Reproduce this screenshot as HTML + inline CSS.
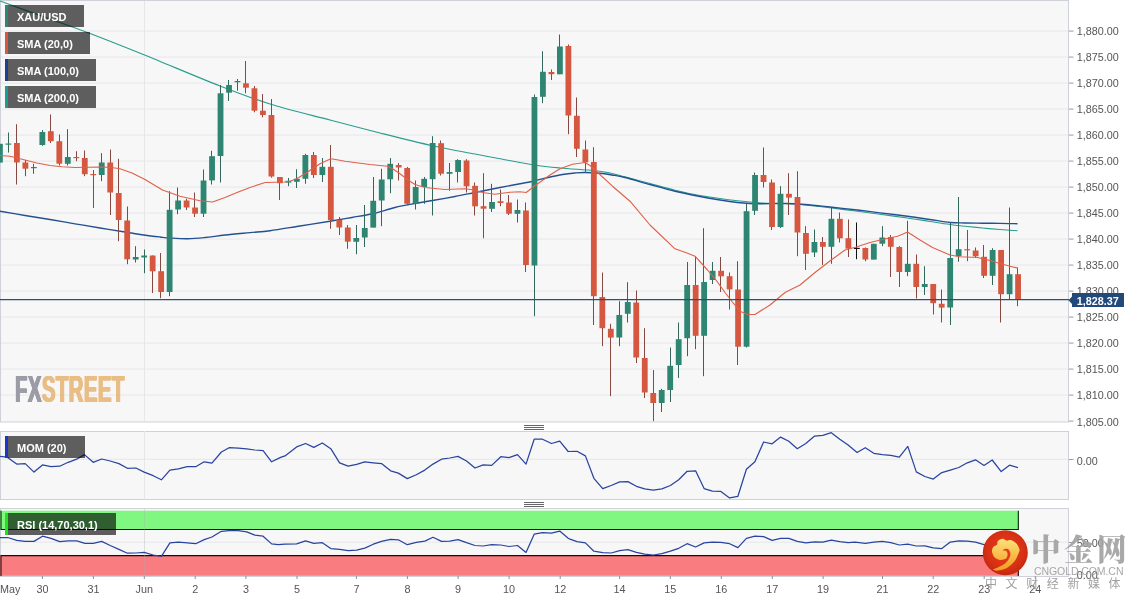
<!DOCTYPE html>
<html lang="en"><head><meta charset="utf-8"><title>XAU/USD 4H chart</title>
<style>
html,body{margin:0;padding:0;background:#fff;}
body{width:1139px;height:602px;overflow:hidden;position:relative;font-family:"Liberation Sans",sans-serif;}
svg{position:absolute;left:0;top:0;display:block}
.ax{font:10.8px "Liberation Sans",sans-serif;fill:#555;}
.lbl{position:absolute;left:5px;height:21.6px;background:rgba(0,0,0,0.62);color:#fff;font:bold 11px/24.4px "Liberation Sans",sans-serif;box-sizing:border-box;padding-left:12px;white-space:nowrap;}
.lbl i{position:absolute;left:0;top:0;bottom:0;width:3px;}
#fx{position:absolute;left:15.3px;top:369.05px;font:bold 37.4px/40px "Liberation Sans",sans-serif;transform:scaleX(0.546);transform-origin:0 0;white-space:nowrap;letter-spacing:0.7px;text-shadow:1.1px 0 0 currentColor,-1.1px 0 0 currentColor,0.55px 0 0 currentColor,-0.55px 0 0 currentColor;}
#fx .a{color:#9b9ca6} #fx .b{color:#e9be86}
#wm1{position:absolute;left:1031px;top:524.5px;letter-spacing:3.4px;font:900 29.6px/44px "Noto Serif CJK SC","Noto Sans CJK SC",serif;color:#a3a3a3;white-space:nowrap;opacity:.93}
#wm2{position:absolute;left:1034px;top:564px;font:10.5px/14px "Liberation Sans",sans-serif;color:#a6a6a6;white-space:nowrap;letter-spacing:-0.08px}
#wm3{position:absolute;left:985px;top:575.4px;font:12px/18px "Liberation Sans","Noto Sans CJK SC",sans-serif;color:#a0a0a0;white-space:nowrap;letter-spacing:8.6px}
#price{position:absolute;left:1072px;top:293px;width:51.5px;height:14.4px;background:#21497a;color:#fff;font:bold 10.8px/16.4px "Liberation Sans",sans-serif;text-align:center;white-space:nowrap}
</style></head><body>
<svg width="1139" height="602" viewBox="0 0 1139 602">
<defs>
<radialGradient id="rg" cx="50%" cy="45%" r="60%"><stop offset="0" stop-color="#e8401c"/><stop offset="0.7" stop-color="#d62f14"/><stop offset="1" stop-color="#b8240f"/></radialGradient>
<linearGradient id="gg" x1="0" y1="0" x2="0" y2="1"><stop offset="0" stop-color="#fde27a"/><stop offset="1" stop-color="#f59a1e"/></linearGradient>
</defs>
<rect x="0.5" y="0.5" width="1068" height="421.5" fill="#f7f7f7" stroke="#cfd1d8" stroke-width="1"/>
<rect x="0.5" y="431.5" width="1068" height="68.0" fill="#f7f7f7" stroke="#cfd1d8" stroke-width="1"/>
<rect x="0.5" y="508.5" width="1068" height="68.0" fill="#f7f7f7" stroke="#cfd1d8" stroke-width="1"/>
<line x1="1" x2="1068" y1="31.1" y2="31.1" stroke="#e7e7ea" stroke-width="1"/>
<line x1="1" x2="1068" y1="57.1" y2="57.1" stroke="#e7e7ea" stroke-width="1"/>
<line x1="1" x2="1068" y1="83.1" y2="83.1" stroke="#e7e7ea" stroke-width="1"/>
<line x1="1" x2="1068" y1="109.1" y2="109.1" stroke="#e7e7ea" stroke-width="1"/>
<line x1="1" x2="1068" y1="135.1" y2="135.1" stroke="#e7e7ea" stroke-width="1"/>
<line x1="1" x2="1068" y1="161.1" y2="161.1" stroke="#e7e7ea" stroke-width="1"/>
<line x1="1" x2="1068" y1="187.1" y2="187.1" stroke="#e7e7ea" stroke-width="1"/>
<line x1="1" x2="1068" y1="213.1" y2="213.1" stroke="#e7e7ea" stroke-width="1"/>
<line x1="1" x2="1068" y1="239.1" y2="239.1" stroke="#e7e7ea" stroke-width="1"/>
<line x1="1" x2="1068" y1="265.1" y2="265.1" stroke="#e7e7ea" stroke-width="1"/>
<line x1="1" x2="1068" y1="291.1" y2="291.1" stroke="#e7e7ea" stroke-width="1"/>
<line x1="1" x2="1068" y1="317.1" y2="317.1" stroke="#e7e7ea" stroke-width="1"/>
<line x1="1" x2="1068" y1="343.1" y2="343.1" stroke="#e7e7ea" stroke-width="1"/>
<line x1="1" x2="1068" y1="369.1" y2="369.1" stroke="#e7e7ea" stroke-width="1"/>
<line x1="1" x2="1068" y1="395.1" y2="395.1" stroke="#e7e7ea" stroke-width="1"/>
<line x1="144.5" x2="144.5" y1="1" y2="422" stroke="#e7e7ea" stroke-width="1"/>
<line x1="144.5" x2="144.5" y1="431" y2="499.5" stroke="#e7e7ea" stroke-width="1"/>
<line x1="1" x2="1068" y1="459.3" y2="459.3" stroke="#e7e7ea" stroke-width="1"/>
<line x1="1" x2="1068" y1="542.2" y2="542.2" stroke="#e7e7ea" stroke-width="1"/>
<rect x="0" y="510.7" width="1018.8" height="18.8" fill="#80f780"/>
<rect x="0" y="555.6" width="1018.8" height="20.2" fill="#f87c80"/>
<path d="M1,510.7 V529.4 H1018.3 V510.7" fill="none" stroke="#0a1a0a" stroke-width="1.05"/>
<path d="M1,576 V555.6 H1018.3 V576" fill="none" stroke="#1a0a0a" stroke-width="1.05"/>
<line x1="144.5" x2="144.5" y1="509" y2="576" stroke="#b0b0b0" stroke-opacity="0.35" stroke-width="1"/>
<path d="M0.00,1.00 C6.67,3.42 26.08,10.50 40.00,15.50 C53.92,20.50 66.28,24.50 83.50,31.00 C100.72,37.50 120.55,45.33 143.30,54.50 C166.05,63.67 198.88,77.75 220.00,86.00 C241.12,94.25 251.67,98.33 270.00,104.00 C288.33,109.67 311.67,115.17 330.00,120.00 C348.33,124.83 362.92,128.71 380.00,133.00 C397.08,137.29 416.67,142.25 432.50,145.75 C448.33,149.25 463.75,151.83 475.00,154.00 C486.25,156.17 490.17,156.92 500.00,158.75 C509.83,160.58 524.00,163.46 534.00,165.00 C544.00,166.54 550.04,167.08 560.00,168.00 C569.96,168.92 585.42,169.67 593.75,170.50 C602.08,171.33 604.79,171.93 610.00,173.00 C615.21,174.07 618.33,175.15 625.00,176.90 C631.67,178.65 641.67,181.28 650.00,183.50 C658.33,185.72 666.67,188.20 675.00,190.20 C683.33,192.20 689.58,193.74 700.00,195.50 C710.42,197.26 727.17,199.50 737.50,200.75 C747.83,202.00 754.12,202.54 762.00,203.00 C769.88,203.46 777.58,203.17 784.75,203.50 C791.92,203.83 797.46,204.28 805.00,205.00 C812.54,205.72 821.25,206.76 830.00,207.80 C838.75,208.84 849.17,210.17 857.50,211.25 C865.83,212.33 871.67,213.18 880.00,214.30 C888.33,215.43 899.17,216.80 907.50,218.00 C915.83,219.20 922.92,220.42 930.00,221.50 C937.08,222.58 944.17,223.70 950.00,224.50 C955.83,225.30 959.58,225.72 965.00,226.30 C970.42,226.88 976.67,227.47 982.50,228.00 C988.33,228.53 994.17,229.04 1000.00,229.50 C1005.83,229.96 1014.58,230.54 1017.50,230.75" fill="none" stroke="#2a9d8f" stroke-width="1.15"/>
<path d="M0.00,211.25 C4.17,211.96 16.67,214.12 25.00,215.50 C33.33,216.88 41.67,218.12 50.00,219.50 C58.33,220.88 66.67,222.38 75.00,223.80 C83.33,225.22 91.67,226.63 100.00,228.00 C108.33,229.37 117.67,230.83 125.00,232.00 C132.33,233.17 138.17,234.17 144.00,235.00 C149.83,235.83 155.67,236.50 160.00,237.00 C164.33,237.50 165.42,237.71 170.00,238.00 C174.58,238.29 181.67,238.83 187.50,238.75 C193.33,238.67 198.75,238.12 205.00,237.50 C211.25,236.88 217.50,235.82 225.00,235.00 C232.50,234.18 242.50,233.31 250.00,232.60 C257.50,231.89 261.67,231.85 270.00,230.75 C278.33,229.65 290.00,227.58 300.00,226.00 C310.00,224.42 321.33,222.67 330.00,221.25 C338.67,219.83 344.92,218.75 352.00,217.50 C359.08,216.25 365.33,215.42 372.50,213.75 C379.67,212.08 387.92,209.21 395.00,207.50 C402.08,205.79 408.75,204.67 415.00,203.50 C421.25,202.33 425.83,201.67 432.50,200.50 C439.17,199.33 447.92,197.83 455.00,196.50 C462.08,195.17 467.50,194.00 475.00,192.50 C482.50,191.00 492.50,188.96 500.00,187.50 C507.50,186.04 514.33,184.83 520.00,183.75 C525.67,182.67 529.33,182.04 534.00,181.00 C538.67,179.96 543.25,178.58 548.00,177.50 C552.75,176.42 558.00,175.25 562.50,174.50 C567.00,173.75 571.25,173.33 575.00,173.00 C578.75,172.67 580.83,172.46 585.00,172.50 C589.17,172.54 595.50,172.83 600.00,173.25 C604.50,173.67 607.83,174.29 612.00,175.00 C616.17,175.71 618.67,175.92 625.00,177.50 C631.33,179.08 641.67,182.21 650.00,184.50 C658.33,186.79 666.67,189.25 675.00,191.25 C683.33,193.25 692.50,195.04 700.00,196.50 C707.50,197.96 713.75,199.00 720.00,200.00 C726.25,201.00 732.50,201.92 737.50,202.50 C742.50,203.08 745.83,203.29 750.00,203.50 C754.17,203.71 756.71,203.75 762.50,203.75 C768.29,203.75 777.67,203.38 784.75,203.50 C791.83,203.62 797.46,203.92 805.00,204.50 C812.54,205.08 821.25,206.08 830.00,207.00 C838.75,207.92 849.17,209.03 857.50,210.00 C865.83,210.97 871.67,211.76 880.00,212.80 C888.33,213.84 899.17,215.13 907.50,216.25 C915.83,217.37 922.92,218.46 930.00,219.50 C937.08,220.54 944.17,221.92 950.00,222.50 C955.83,223.08 959.58,222.88 965.00,223.00 C970.42,223.12 976.67,223.20 982.50,223.25 C988.33,223.30 994.17,223.22 1000.00,223.30 C1005.83,223.38 1014.58,223.68 1017.50,223.75" fill="none" stroke="#24508f" stroke-width="1.3"/>
<line x1="-0.50" x2="-0.50" y1="143.0" y2="176.0" stroke="#33675c" stroke-width="1"/>
<rect x="-2.97" y="143.8" width="5.8" height="18.8" fill="#2e8571"/>
<line x1="8.50" x2="8.50" y1="132.5" y2="152.5" stroke="#33675c" stroke-width="1"/>
<rect x="5.51" y="143.5" width="5.8" height="1.2" fill="#2e8571"/>
<line x1="16.50" x2="16.50" y1="124.2" y2="184.5" stroke="#86493f" stroke-width="1"/>
<rect x="14.00" y="143.0" width="5.8" height="19.5" fill="#d5573f"/>
<line x1="25.50" x2="25.50" y1="160.0" y2="176.2" stroke="#86493f" stroke-width="1"/>
<rect x="22.48" y="162.5" width="5.8" height="6.2" fill="#d5573f"/>
<line x1="33.50" x2="33.50" y1="163.8" y2="173.8" stroke="#33675c" stroke-width="1"/>
<rect x="30.96" y="167.0" width="5.8" height="1.2" fill="#2e8571"/>
<line x1="42.50" x2="42.50" y1="130.0" y2="145.8" stroke="#33675c" stroke-width="1"/>
<rect x="39.45" y="132.0" width="5.8" height="13.0" fill="#2e8571"/>
<line x1="50.50" x2="50.50" y1="114.5" y2="143.0" stroke="#86493f" stroke-width="1"/>
<rect x="47.93" y="131.2" width="5.8" height="10.0" fill="#d5573f"/>
<line x1="59.50" x2="59.50" y1="134.5" y2="165.5" stroke="#86493f" stroke-width="1"/>
<rect x="56.42" y="141.2" width="5.8" height="22.5" fill="#d5573f"/>
<line x1="67.50" x2="67.50" y1="129.2" y2="165.5" stroke="#33675c" stroke-width="1"/>
<rect x="64.90" y="157.0" width="5.8" height="6.8" fill="#2e8571"/>
<line x1="76.50" x2="76.50" y1="151.2" y2="161.2" stroke="#86493f" stroke-width="1"/>
<rect x="73.39" y="157.0" width="5.8" height="1.2" fill="#d5573f"/>
<line x1="84.50" x2="84.50" y1="150.5" y2="176.2" stroke="#86493f" stroke-width="1"/>
<rect x="81.87" y="158.0" width="5.8" height="16.2" fill="#d5573f"/>
<line x1="93.50" x2="93.50" y1="170.0" y2="208.0" stroke="#86493f" stroke-width="1"/>
<rect x="90.36" y="174.0" width="5.8" height="1.2" fill="#d5573f"/>
<line x1="101.50" x2="101.50" y1="153.2" y2="181.2" stroke="#33675c" stroke-width="1"/>
<rect x="98.84" y="162.5" width="5.8" height="12.5" fill="#2e8571"/>
<line x1="110.50" x2="110.50" y1="149.5" y2="215.0" stroke="#86493f" stroke-width="1"/>
<rect x="107.32" y="162.5" width="5.8" height="30.0" fill="#d5573f"/>
<line x1="118.50" x2="118.50" y1="158.8" y2="241.2" stroke="#86493f" stroke-width="1"/>
<rect x="115.81" y="193.0" width="5.8" height="27.0" fill="#d5573f"/>
<line x1="127.50" x2="127.50" y1="206.5" y2="264.2" stroke="#86493f" stroke-width="1"/>
<rect x="124.29" y="220.5" width="5.8" height="38.8" fill="#d5573f"/>
<line x1="135.50" x2="135.50" y1="246.2" y2="262.5" stroke="#33675c" stroke-width="1"/>
<rect x="132.78" y="257.0" width="5.8" height="2.5" fill="#2e8571"/>
<line x1="144.50" x2="144.50" y1="249.5" y2="273.2" stroke="#33675c" stroke-width="1"/>
<rect x="141.26" y="255.5" width="5.8" height="2.0" fill="#2e8571"/>
<line x1="152.50" x2="152.50" y1="255.5" y2="293.0" stroke="#86493f" stroke-width="1"/>
<rect x="149.75" y="255.5" width="5.8" height="15.8" fill="#d5573f"/>
<line x1="160.50" x2="160.50" y1="253.0" y2="298.2" stroke="#86493f" stroke-width="1"/>
<rect x="158.23" y="271.2" width="5.8" height="20.8" fill="#d5573f"/>
<line x1="169.50" x2="169.50" y1="191.2" y2="296.2" stroke="#33675c" stroke-width="1"/>
<rect x="166.72" y="209.8" width="5.8" height="82.2" fill="#2e8571"/>
<line x1="177.50" x2="177.50" y1="187.5" y2="214.2" stroke="#33675c" stroke-width="1"/>
<rect x="175.20" y="200.5" width="5.8" height="9.0" fill="#2e8571"/>
<line x1="186.50" x2="186.50" y1="198.8" y2="210.0" stroke="#86493f" stroke-width="1"/>
<rect x="183.69" y="200.5" width="5.8" height="7.0" fill="#d5573f"/>
<line x1="194.50" x2="194.50" y1="192.5" y2="217.0" stroke="#86493f" stroke-width="1"/>
<rect x="192.17" y="207.5" width="5.8" height="6.2" fill="#d5573f"/>
<line x1="203.50" x2="203.50" y1="169.5" y2="217.0" stroke="#33675c" stroke-width="1"/>
<rect x="200.65" y="180.5" width="5.8" height="33.2" fill="#2e8571"/>
<line x1="211.50" x2="211.50" y1="150.8" y2="184.5" stroke="#33675c" stroke-width="1"/>
<rect x="209.14" y="156.2" width="5.8" height="24.2" fill="#2e8571"/>
<line x1="220.50" x2="220.50" y1="85.0" y2="182.5" stroke="#33675c" stroke-width="1"/>
<rect x="217.62" y="93.3" width="5.8" height="62.7" fill="#2e8571"/>
<line x1="228.50" x2="228.50" y1="80.0" y2="101.0" stroke="#33675c" stroke-width="1"/>
<rect x="226.11" y="85.0" width="5.8" height="7.7" fill="#2e8571"/>
<line x1="237.50" x2="237.50" y1="79.0" y2="90.7" stroke="#33675c" stroke-width="1"/>
<rect x="234.59" y="81.0" width="5.8" height="1.3" fill="#2e8571"/>
<line x1="245.50" x2="245.50" y1="61.0" y2="93.3" stroke="#86493f" stroke-width="1"/>
<rect x="243.08" y="83.3" width="5.8" height="4.4" fill="#d5573f"/>
<line x1="254.50" x2="254.50" y1="86.0" y2="112.3" stroke="#86493f" stroke-width="1"/>
<rect x="251.56" y="88.3" width="5.8" height="22.4" fill="#d5573f"/>
<line x1="262.50" x2="262.50" y1="94.0" y2="117.3" stroke="#86493f" stroke-width="1"/>
<rect x="260.05" y="110.7" width="5.8" height="4.3" fill="#d5573f"/>
<line x1="271.50" x2="271.50" y1="99.0" y2="177.7" stroke="#86493f" stroke-width="1"/>
<rect x="268.53" y="115.0" width="5.8" height="61.5" fill="#d5573f"/>
<line x1="279.50" x2="279.50" y1="177.0" y2="200.0" stroke="#86493f" stroke-width="1"/>
<rect x="277.01" y="177.0" width="5.8" height="6.2" fill="#d5573f"/>
<line x1="288.50" x2="288.50" y1="178.0" y2="186.2" stroke="#33675c" stroke-width="1"/>
<rect x="285.50" y="180.8" width="5.8" height="1.8" fill="#2e8571"/>
<line x1="296.50" x2="296.50" y1="169.2" y2="188.0" stroke="#33675c" stroke-width="1"/>
<rect x="293.98" y="178.8" width="5.8" height="3.0" fill="#2e8571"/>
<line x1="305.50" x2="305.50" y1="153.8" y2="183.8" stroke="#33675c" stroke-width="1"/>
<rect x="302.47" y="155.0" width="5.8" height="23.8" fill="#2e8571"/>
<line x1="313.50" x2="313.50" y1="152.0" y2="178.0" stroke="#86493f" stroke-width="1"/>
<rect x="310.95" y="155.0" width="5.8" height="20.0" fill="#d5573f"/>
<line x1="322.50" x2="322.50" y1="158.0" y2="182.0" stroke="#33675c" stroke-width="1"/>
<rect x="319.44" y="166.8" width="5.8" height="8.2" fill="#2e8571"/>
<line x1="330.50" x2="330.50" y1="145.0" y2="228.8" stroke="#86493f" stroke-width="1"/>
<rect x="327.92" y="166.8" width="5.8" height="53.2" fill="#d5573f"/>
<line x1="339.50" x2="339.50" y1="217.0" y2="235.0" stroke="#86493f" stroke-width="1"/>
<rect x="336.41" y="220.0" width="5.8" height="7.5" fill="#d5573f"/>
<line x1="347.50" x2="347.50" y1="225.0" y2="248.8" stroke="#86493f" stroke-width="1"/>
<rect x="344.89" y="227.5" width="5.8" height="14.2" fill="#d5573f"/>
<line x1="356.50" x2="356.50" y1="225.0" y2="254.2" stroke="#33675c" stroke-width="1"/>
<rect x="353.38" y="238.0" width="5.8" height="3.8" fill="#2e8571"/>
<line x1="364.50" x2="364.50" y1="205.0" y2="247.0" stroke="#33675c" stroke-width="1"/>
<rect x="361.86" y="228.0" width="5.8" height="9.5" fill="#2e8571"/>
<line x1="373.50" x2="373.50" y1="177.0" y2="227.5" stroke="#33675c" stroke-width="1"/>
<rect x="370.34" y="200.8" width="5.8" height="26.8" fill="#2e8571"/>
<line x1="381.50" x2="381.50" y1="168.8" y2="226.2" stroke="#33675c" stroke-width="1"/>
<rect x="378.83" y="179.5" width="5.8" height="21.0" fill="#2e8571"/>
<line x1="390.50" x2="390.50" y1="158.0" y2="193.2" stroke="#33675c" stroke-width="1"/>
<rect x="387.31" y="163.8" width="5.8" height="15.5" fill="#2e8571"/>
<line x1="398.50" x2="398.50" y1="163.0" y2="180.5" stroke="#86493f" stroke-width="1"/>
<rect x="395.80" y="165.0" width="5.8" height="2.5" fill="#d5573f"/>
<line x1="407.50" x2="407.50" y1="167.0" y2="205.0" stroke="#86493f" stroke-width="1"/>
<rect x="404.28" y="168.0" width="5.8" height="35.8" fill="#d5573f"/>
<line x1="415.50" x2="415.50" y1="180.5" y2="209.5" stroke="#33675c" stroke-width="1"/>
<rect x="412.77" y="187.0" width="5.8" height="16.8" fill="#2e8571"/>
<line x1="424.50" x2="424.50" y1="177.0" y2="203.8" stroke="#33675c" stroke-width="1"/>
<rect x="421.25" y="178.8" width="5.8" height="8.2" fill="#2e8571"/>
<line x1="432.50" x2="432.50" y1="136.2" y2="215.5" stroke="#33675c" stroke-width="1"/>
<rect x="429.74" y="143.0" width="5.8" height="36.2" fill="#2e8571"/>
<line x1="440.50" x2="440.50" y1="140.5" y2="175.5" stroke="#86493f" stroke-width="1"/>
<rect x="438.22" y="143.2" width="5.8" height="30.5" fill="#d5573f"/>
<line x1="449.50" x2="449.50" y1="163.0" y2="190.8" stroke="#33675c" stroke-width="1"/>
<rect x="446.70" y="172.0" width="5.8" height="1.8" fill="#2e8571"/>
<line x1="457.50" x2="457.50" y1="159.2" y2="182.5" stroke="#33675c" stroke-width="1"/>
<rect x="455.19" y="160.0" width="5.8" height="12.0" fill="#2e8571"/>
<line x1="466.50" x2="466.50" y1="159.2" y2="192.5" stroke="#86493f" stroke-width="1"/>
<rect x="463.67" y="160.5" width="5.8" height="25.8" fill="#d5573f"/>
<line x1="474.50" x2="474.50" y1="182.5" y2="215.5" stroke="#86493f" stroke-width="1"/>
<rect x="472.16" y="185.8" width="5.8" height="20.5" fill="#d5573f"/>
<line x1="483.50" x2="483.50" y1="173.2" y2="238.2" stroke="#86493f" stroke-width="1"/>
<rect x="480.64" y="206.2" width="5.8" height="2.5" fill="#d5573f"/>
<line x1="491.50" x2="491.50" y1="183.8" y2="212.0" stroke="#33675c" stroke-width="1"/>
<rect x="489.13" y="202.0" width="5.8" height="6.8" fill="#2e8571"/>
<line x1="500.50" x2="500.50" y1="189.5" y2="206.2" stroke="#86493f" stroke-width="1"/>
<rect x="497.61" y="201.2" width="5.8" height="1.8" fill="#d5573f"/>
<line x1="508.50" x2="508.50" y1="195.0" y2="215.0" stroke="#86493f" stroke-width="1"/>
<rect x="506.10" y="202.5" width="5.8" height="11.2" fill="#d5573f"/>
<line x1="517.50" x2="517.50" y1="199.5" y2="222.5" stroke="#33675c" stroke-width="1"/>
<rect x="514.58" y="210.0" width="5.8" height="3.8" fill="#2e8571"/>
<line x1="525.50" x2="525.50" y1="202.5" y2="272.0" stroke="#86493f" stroke-width="1"/>
<rect x="523.07" y="210.5" width="5.8" height="54.5" fill="#d5573f"/>
<line x1="534.50" x2="534.50" y1="94.5" y2="316.2" stroke="#33675c" stroke-width="1"/>
<rect x="531.55" y="97.0" width="5.8" height="168.5" fill="#2e8571"/>
<line x1="542.50" x2="542.50" y1="51.2" y2="103.2" stroke="#33675c" stroke-width="1"/>
<rect x="540.03" y="71.8" width="5.8" height="25.0" fill="#2e8571"/>
<line x1="551.50" x2="551.50" y1="69.5" y2="80.0" stroke="#86493f" stroke-width="1"/>
<rect x="548.52" y="72.0" width="5.8" height="2.2" fill="#d5573f"/>
<line x1="559.50" x2="559.50" y1="34.5" y2="74.2" stroke="#33675c" stroke-width="1"/>
<rect x="557.00" y="46.5" width="5.8" height="27.8" fill="#2e8571"/>
<line x1="568.50" x2="568.50" y1="44.5" y2="134.2" stroke="#86493f" stroke-width="1"/>
<rect x="565.49" y="46.0" width="5.8" height="69.5" fill="#d5573f"/>
<line x1="576.50" x2="576.50" y1="97.5" y2="157.0" stroke="#86493f" stroke-width="1"/>
<rect x="573.97" y="115.8" width="5.8" height="33.0" fill="#d5573f"/>
<line x1="585.50" x2="585.50" y1="140.5" y2="172.5" stroke="#86493f" stroke-width="1"/>
<rect x="582.46" y="149.5" width="5.8" height="12.8" fill="#d5573f"/>
<line x1="593.50" x2="593.50" y1="147.2" y2="325.0" stroke="#86493f" stroke-width="1"/>
<rect x="590.94" y="162.0" width="5.8" height="134.2" fill="#d5573f"/>
<line x1="602.50" x2="602.50" y1="272.5" y2="346.2" stroke="#86493f" stroke-width="1"/>
<rect x="599.43" y="297.0" width="5.8" height="31.2" fill="#d5573f"/>
<line x1="610.50" x2="610.50" y1="323.8" y2="396.2" stroke="#86493f" stroke-width="1"/>
<rect x="607.91" y="328.8" width="5.8" height="8.8" fill="#d5573f"/>
<line x1="619.50" x2="619.50" y1="301.2" y2="346.2" stroke="#33675c" stroke-width="1"/>
<rect x="616.39" y="315.0" width="5.8" height="22.5" fill="#2e8571"/>
<line x1="627.50" x2="627.50" y1="282.2" y2="322.5" stroke="#33675c" stroke-width="1"/>
<rect x="624.88" y="302.0" width="5.8" height="11.8" fill="#2e8571"/>
<line x1="636.50" x2="636.50" y1="290.5" y2="363.0" stroke="#86493f" stroke-width="1"/>
<rect x="633.36" y="302.5" width="5.8" height="55.0" fill="#d5573f"/>
<line x1="644.50" x2="644.50" y1="328.2" y2="398.0" stroke="#86493f" stroke-width="1"/>
<rect x="641.85" y="358.0" width="5.8" height="34.5" fill="#d5573f"/>
<line x1="653.50" x2="653.50" y1="370.0" y2="421.2" stroke="#86493f" stroke-width="1"/>
<rect x="650.33" y="393.0" width="5.8" height="10.0" fill="#d5573f"/>
<line x1="661.50" x2="661.50" y1="388.8" y2="412.0" stroke="#33675c" stroke-width="1"/>
<rect x="658.82" y="390.0" width="5.8" height="13.0" fill="#2e8571"/>
<line x1="670.50" x2="670.50" y1="347.5" y2="402.0" stroke="#33675c" stroke-width="1"/>
<rect x="667.30" y="365.8" width="5.8" height="24.2" fill="#2e8571"/>
<line x1="678.50" x2="678.50" y1="322.5" y2="378.0" stroke="#33675c" stroke-width="1"/>
<rect x="675.79" y="339.2" width="5.8" height="25.8" fill="#2e8571"/>
<line x1="687.50" x2="687.50" y1="262.0" y2="356.2" stroke="#33675c" stroke-width="1"/>
<rect x="684.27" y="285.0" width="5.8" height="53.2" fill="#2e8571"/>
<line x1="695.50" x2="695.50" y1="256.2" y2="349.2" stroke="#86493f" stroke-width="1"/>
<rect x="692.76" y="285.0" width="5.8" height="50.8" fill="#d5573f"/>
<line x1="703.50" x2="703.50" y1="228.2" y2="376.2" stroke="#33675c" stroke-width="1"/>
<rect x="701.24" y="282.0" width="5.8" height="53.8" fill="#2e8571"/>
<line x1="712.50" x2="712.50" y1="262.0" y2="284.0" stroke="#33675c" stroke-width="1"/>
<rect x="709.72" y="270.8" width="5.8" height="9.2" fill="#2e8571"/>
<line x1="720.50" x2="720.50" y1="257.0" y2="292.0" stroke="#86493f" stroke-width="1"/>
<rect x="718.21" y="270.8" width="5.8" height="5.5" fill="#d5573f"/>
<line x1="729.50" x2="729.50" y1="272.5" y2="309.5" stroke="#86493f" stroke-width="1"/>
<rect x="726.69" y="276.2" width="5.8" height="13.2" fill="#d5573f"/>
<line x1="737.50" x2="737.50" y1="261.2" y2="365.0" stroke="#86493f" stroke-width="1"/>
<rect x="735.18" y="289.5" width="5.8" height="57.2" fill="#d5573f"/>
<line x1="746.50" x2="746.50" y1="203.8" y2="347.5" stroke="#33675c" stroke-width="1"/>
<rect x="743.66" y="211.2" width="5.8" height="135.5" fill="#2e8571"/>
<line x1="754.50" x2="754.50" y1="172.5" y2="215.0" stroke="#33675c" stroke-width="1"/>
<rect x="752.15" y="175.0" width="5.8" height="35.8" fill="#2e8571"/>
<line x1="763.50" x2="763.50" y1="147.5" y2="187.5" stroke="#86493f" stroke-width="1"/>
<rect x="760.63" y="175.0" width="5.8" height="7.0" fill="#d5573f"/>
<line x1="771.50" x2="771.50" y1="179.5" y2="230.0" stroke="#86493f" stroke-width="1"/>
<rect x="769.12" y="182.5" width="5.8" height="44.5" fill="#d5573f"/>
<line x1="780.50" x2="780.50" y1="186.2" y2="228.0" stroke="#33675c" stroke-width="1"/>
<rect x="777.60" y="193.8" width="5.8" height="33.2" fill="#2e8571"/>
<line x1="788.50" x2="788.50" y1="173.2" y2="215.0" stroke="#86493f" stroke-width="1"/>
<rect x="786.09" y="193.8" width="5.8" height="3.8" fill="#d5573f"/>
<line x1="797.50" x2="797.50" y1="171.2" y2="256.2" stroke="#86493f" stroke-width="1"/>
<rect x="794.57" y="197.0" width="5.8" height="35.5" fill="#d5573f"/>
<line x1="805.50" x2="805.50" y1="226.2" y2="270.0" stroke="#86493f" stroke-width="1"/>
<rect x="803.05" y="233.0" width="5.8" height="20.8" fill="#d5573f"/>
<line x1="814.50" x2="814.50" y1="229.5" y2="257.0" stroke="#33675c" stroke-width="1"/>
<rect x="811.54" y="242.0" width="5.8" height="10.5" fill="#2e8571"/>
<line x1="822.50" x2="822.50" y1="237.0" y2="265.0" stroke="#86493f" stroke-width="1"/>
<rect x="820.02" y="242.0" width="5.8" height="4.8" fill="#d5573f"/>
<line x1="831.50" x2="831.50" y1="207.5" y2="263.8" stroke="#33675c" stroke-width="1"/>
<rect x="828.51" y="218.8" width="5.8" height="28.0" fill="#2e8571"/>
<line x1="839.50" x2="839.50" y1="212.5" y2="242.5" stroke="#86493f" stroke-width="1"/>
<rect x="836.99" y="218.8" width="5.8" height="19.5" fill="#d5573f"/>
<line x1="848.50" x2="848.50" y1="219.5" y2="257.0" stroke="#86493f" stroke-width="1"/>
<rect x="845.48" y="238.2" width="5.8" height="10.5" fill="#d5573f"/>
<line x1="856.50" x2="856.50" y1="222.5" y2="259.2" stroke="#111" stroke-width="1"/>
<rect x="853.96" y="247.8" width="5.8" height="1.2" fill="#111"/>
<line x1="865.50" x2="865.50" y1="247.5" y2="261.2" stroke="#86493f" stroke-width="1"/>
<rect x="862.45" y="248.0" width="5.8" height="11.5" fill="#d5573f"/>
<line x1="873.50" x2="873.50" y1="243.8" y2="259.5" stroke="#33675c" stroke-width="1"/>
<rect x="870.93" y="243.8" width="5.8" height="15.8" fill="#2e8571"/>
<line x1="882.50" x2="882.50" y1="226.2" y2="246.2" stroke="#33675c" stroke-width="1"/>
<rect x="879.41" y="237.5" width="5.8" height="6.2" fill="#2e8571"/>
<line x1="890.50" x2="890.50" y1="235.0" y2="277.0" stroke="#86493f" stroke-width="1"/>
<rect x="887.90" y="237.0" width="5.8" height="9.8" fill="#d5573f"/>
<line x1="899.50" x2="899.50" y1="246.2" y2="287.0" stroke="#86493f" stroke-width="1"/>
<rect x="896.38" y="247.0" width="5.8" height="25.0" fill="#d5573f"/>
<line x1="907.50" x2="907.50" y1="220.8" y2="276.2" stroke="#33675c" stroke-width="1"/>
<rect x="904.87" y="263.8" width="5.8" height="8.2" fill="#2e8571"/>
<line x1="916.50" x2="916.50" y1="254.5" y2="298.5" stroke="#86493f" stroke-width="1"/>
<rect x="913.35" y="263.8" width="5.8" height="23.2" fill="#d5573f"/>
<line x1="924.50" x2="924.50" y1="266.2" y2="295.0" stroke="#33675c" stroke-width="1"/>
<rect x="921.84" y="284.0" width="5.8" height="3.0" fill="#2e8571"/>
<line x1="933.50" x2="933.50" y1="284.0" y2="314.5" stroke="#86493f" stroke-width="1"/>
<rect x="930.32" y="284.0" width="5.8" height="19.2" fill="#d5573f"/>
<line x1="941.50" x2="941.50" y1="289.5" y2="322.5" stroke="#86493f" stroke-width="1"/>
<rect x="938.81" y="303.8" width="5.8" height="3.8" fill="#d5573f"/>
<line x1="950.50" x2="950.50" y1="222.5" y2="325.0" stroke="#33675c" stroke-width="1"/>
<rect x="947.29" y="258.0" width="5.8" height="49.5" fill="#2e8571"/>
<line x1="958.50" x2="958.50" y1="197.0" y2="261.8" stroke="#33675c" stroke-width="1"/>
<rect x="955.77" y="249.2" width="5.8" height="7.0" fill="#2e8571"/>
<line x1="967.50" x2="967.50" y1="230.0" y2="261.2" stroke="#86493f" stroke-width="1"/>
<rect x="964.26" y="249.2" width="5.8" height="1.2" fill="#d5573f"/>
<line x1="975.50" x2="975.50" y1="247.5" y2="258.0" stroke="#86493f" stroke-width="1"/>
<rect x="972.74" y="250.5" width="5.8" height="5.8" fill="#d5573f"/>
<line x1="983.50" x2="983.50" y1="245.0" y2="278.0" stroke="#86493f" stroke-width="1"/>
<rect x="981.23" y="256.8" width="5.8" height="19.0" fill="#d5573f"/>
<line x1="992.50" x2="992.50" y1="248.2" y2="285.0" stroke="#33675c" stroke-width="1"/>
<rect x="989.71" y="250.0" width="5.8" height="25.8" fill="#2e8571"/>
<line x1="1000.50" x2="1000.50" y1="250.0" y2="322.5" stroke="#86493f" stroke-width="1"/>
<rect x="998.20" y="250.0" width="5.8" height="44.2" fill="#d5573f"/>
<line x1="1009.50" x2="1009.50" y1="207.5" y2="299.5" stroke="#33675c" stroke-width="1"/>
<rect x="1006.68" y="274.2" width="5.8" height="20.0" fill="#2e8571"/>
<line x1="1017.50" x2="1017.50" y1="267.5" y2="306.2" stroke="#86493f" stroke-width="1"/>
<rect x="1015.17" y="274.2" width="5.8" height="25.0" fill="#d5573f"/>
<path d="M0.0,155.5 L10.0,156.2 L25.0,160.0 L37.0,163.0 L50.0,165.5 L62.0,166.8 L75.0,167.5 L100.0,167.0 L110.0,167.3 L120.0,168.8 L132.0,173.0 L145.0,179.5 L162.5,190.0 L180.0,196.2 L200.0,200.8 L212.5,202.0 L225.0,197.5 L237.0,192.5 L250.0,187.5 L265.0,182.5 L275.0,182.3 L284.8,182.0 L290.0,181.2 L297.0,178.5 L305.0,173.8 L320.0,163.8 L330.8,158.8 L337.0,159.7 L345.0,161.2 L370.0,164.5 L387.5,166.2 L393.0,169.0 L400.0,173.8 L408.0,180.0 L415.0,184.5 L425.0,187.5 L445.0,189.5 L465.0,188.8 L474.0,190.0 L482.5,192.5 L495.0,194.2 L502.0,193.2 L510.0,192.2 L520.0,191.8 L526.2,192.5 L534.2,186.2 L550.0,175.0 L560.0,168.8 L572.5,164.2 L585.0,162.5 L590.0,165.5 L595.0,170.0 L612.5,186.2 L630.0,201.2 L650.0,225.0 L675.0,248.8 L687.0,253.0 L695.0,256.2 L707.5,270.0 L716.0,280.0 L725.0,292.5 L732.0,301.5 L740.0,311.2 L747.5,314.5 L755.0,314.5 L770.0,305.0 L785.0,292.5 L800.0,285.0 L815.0,272.5 L831.2,260.0 L845.0,250.0 L856.2,247.0 L870.0,242.5 L882.5,239.5 L897.5,236.2 L903.0,234.0 L907.5,232.0 L913.0,235.5 L920.0,240.0 L932.5,247.5 L950.0,255.0 L960.0,256.8 L977.5,257.5 L990.0,260.5 L1001.0,263.8 L1010.0,266.2 L1018.0,268.2" fill="none" stroke="#e0614a" stroke-width="1.15" stroke-linejoin="round"/>
<line x1="0" x2="1069" y1="299.6" y2="299.6" stroke="#2f4f6f" stroke-width="1.3"/>
<path d="M1068.5,300.2 L1072.5,296 V304.5 Z" fill="#234a74"/>
<path d="M0.0,456.4 L7.2,457.2 L16.7,464.1 L25.2,463.6 L34.0,472.1 L42.5,464.9 L51.0,466.7 L59.7,466.2 L68.2,462.3 L76.7,459.2 L84.4,454.6 L93.2,462.3 L101.7,459.0 L110.2,461.0 L118.9,463.6 L127.4,468.3 L135.9,468.0 L144.2,472.1 L153.2,475.7 L161.4,479.8 L169.9,470.1 L178.4,468.8 L187.2,466.7 L195.7,466.7 L204.2,461.8 L211.9,463.1 L221.4,452.0 L229.1,447.7 L238.2,448.2 L246.7,448.9 L254.9,450.0 L263.1,450.7 L271.6,461.8 L280.6,457.4 L285.0,455.9 L296.6,446.9 L305.6,443.5 L313.8,447.4 L322.3,443.0 L330.8,448.7 L339.6,462.8 L348.1,466.2 L356.6,464.4 L364.8,461.8 L373.3,462.8 L381.5,463.6 L390.6,470.8 L398.3,473.1 L407.3,478.6 L416.3,474.7 L424.8,470.1 L433.0,464.1 L441.5,459.2 L449.8,458.0 L458.0,456.4 L466.5,461.0 L475.0,468.0 L483.2,464.9 L491.7,465.4 L500.8,456.7 L509.0,457.7 L517.5,454.6 L526.0,464.1 L534.2,439.2 L542.5,439.2 L551.5,443.5 L559.7,441.2 L568.2,451.5 L577.0,451.3 L585.4,455.9 L593.9,478.3 L602.7,488.6 L611.2,485.5 L619.7,481.9 L627.9,481.6 L636.4,486.3 L644.7,488.9 L653.2,490.1 L661.9,488.9 L670.4,485.5 L678.7,479.8 L687.1,471.3 L695.6,470.8 L704.1,488.6 L712.4,491.2 L720.9,491.4 L729.6,497.9 L737.9,496.3 L746.4,469.3 L754.9,461.8 L763.6,442.0 L772.1,443.8 L780.6,437.1 L788.8,441.2 L797.3,448.7 L805.8,443.5 L814.6,436.1 L822.8,435.3 L831.3,432.7 L839.8,439.2 L848.1,445.1 L857.1,452.5 L865.3,447.7 L873.8,453.3 L882.3,454.6 L890.8,455.4 L899.3,457.2 L907.8,446.4 L916.3,471.9 L924.8,476.5 L933.3,479.1 L941.8,472.6 L950.3,470.1 L958.8,467.5 L967.3,462.8 L975.5,459.8 L984.0,465.4 L992.2,460.0 L1001.2,471.6 L1009.5,465.2 L1018.0,467.7" fill="none" stroke="#2944a0" stroke-width="1.25" stroke-linejoin="round"/>
<path d="M0.0,537.5 L7.7,537.5 L16.7,540.3 L25.2,541.4 L34.0,541.4 L42.5,536.2 L51.0,538.3 L59.7,541.6 L68.2,540.9 L76.7,540.9 L85.0,543.4 L93.2,543.4 L101.7,541.4 L110.2,545.5 L118.9,549.4 L127.4,553.2 L135.9,553.0 L144.2,552.4 L153.2,555.0 L161.4,556.3 L169.9,542.9 L178.4,542.1 L187.2,542.9 L195.7,543.7 L204.2,539.6 L211.9,537.0 L221.4,531.3 L229.1,530.6 L238.2,530.6 L246.7,531.8 L254.9,535.2 L263.1,536.2 L271.6,543.9 L278.1,544.7 L285.0,544.2 L296.6,543.9 L305.6,540.9 L313.8,543.4 L322.3,542.7 L330.8,548.6 L339.6,549.4 L348.1,550.6 L356.6,550.1 L364.8,548.1 L373.3,544.2 L381.5,541.4 L390.6,539.3 L398.3,539.8 L407.3,544.7 L416.3,542.4 L424.8,541.1 L433.0,537.3 L441.5,541.4 L449.8,541.1 L458.0,539.6 L466.5,542.7 L475.0,545.5 L483.2,546.0 L491.7,544.7 L500.8,545.0 L509.0,546.5 L517.5,545.5 L526.0,552.4 L534.2,534.2 L542.5,532.6 L551.5,533.1 L559.7,531.1 L568.2,538.3 L570.0,539.1 L577.0,541.6 L585.4,542.9 L593.9,551.2 L602.7,552.7 L611.2,553.0 L619.7,550.6 L627.9,549.6 L636.4,552.4 L644.7,554.2 L653.2,555.0 L661.9,553.7 L670.4,551.2 L678.7,548.3 L687.1,543.7 L695.6,547.0 L704.1,542.9 L712.4,542.1 L720.9,542.4 L729.6,543.7 L737.9,547.6 L746.4,538.3 L754.9,536.2 L763.6,536.7 L772.1,540.3 L780.6,538.3 L788.8,538.3 L797.3,541.4 L805.8,542.9 L814.6,541.9 L822.8,542.1 L831.3,540.1 L839.8,541.6 L848.1,542.7 L855.0,542.1 L865.3,543.4 L873.8,542.1 L882.3,541.4 L890.8,542.7 L899.3,545.0 L907.8,544.2 L916.3,546.0 L924.8,545.8 L933.3,547.8 L941.8,548.6 L950.3,542.1 L958.8,540.9 L967.3,541.1 L975.5,542.1 L984.0,544.7 L992.2,543.9 L1001.2,548.1 L1009.5,545.0 L1018.0,546.0" fill="none" stroke="#2944a0" stroke-width="1.25" stroke-linejoin="round"/>
<line x1="524" x2="544" y1="425.5" y2="425.5" stroke="#666" stroke-width="1"/>
<line x1="524" x2="544" y1="427.5" y2="427.5" stroke="#666" stroke-width="1"/>
<line x1="524" x2="544" y1="429.5" y2="429.5" stroke="#666" stroke-width="1"/>
<line x1="524" x2="544" y1="502.5" y2="502.5" stroke="#666" stroke-width="1"/>
<line x1="524" x2="544" y1="504.5" y2="504.5" stroke="#666" stroke-width="1"/>
<line x1="524" x2="544" y1="506.5" y2="506.5" stroke="#666" stroke-width="1"/>
<line x1="1069" x2="1073.5" y1="31.1" y2="31.1" stroke="#9a9da5" stroke-width="1"/>
<text class="ax" x="1076.7" y="35.1">1,880.00</text>
<line x1="1069" x2="1073.5" y1="57.1" y2="57.1" stroke="#9a9da5" stroke-width="1"/>
<text class="ax" x="1076.7" y="61.1">1,875.00</text>
<line x1="1069" x2="1073.5" y1="83.1" y2="83.1" stroke="#9a9da5" stroke-width="1"/>
<text class="ax" x="1076.7" y="87.1">1,870.00</text>
<line x1="1069" x2="1073.5" y1="109.1" y2="109.1" stroke="#9a9da5" stroke-width="1"/>
<text class="ax" x="1076.7" y="113.1">1,865.00</text>
<line x1="1069" x2="1073.5" y1="135.1" y2="135.1" stroke="#9a9da5" stroke-width="1"/>
<text class="ax" x="1076.7" y="139.1">1,860.00</text>
<line x1="1069" x2="1073.5" y1="161.1" y2="161.1" stroke="#9a9da5" stroke-width="1"/>
<text class="ax" x="1076.7" y="165.1">1,855.00</text>
<line x1="1069" x2="1073.5" y1="187.1" y2="187.1" stroke="#9a9da5" stroke-width="1"/>
<text class="ax" x="1076.7" y="191.1">1,850.00</text>
<line x1="1069" x2="1073.5" y1="213.1" y2="213.1" stroke="#9a9da5" stroke-width="1"/>
<text class="ax" x="1076.7" y="217.1">1,845.00</text>
<line x1="1069" x2="1073.5" y1="239.1" y2="239.1" stroke="#9a9da5" stroke-width="1"/>
<text class="ax" x="1076.7" y="243.1">1,840.00</text>
<line x1="1069" x2="1073.5" y1="265.1" y2="265.1" stroke="#9a9da5" stroke-width="1"/>
<text class="ax" x="1076.7" y="269.1">1,835.00</text>
<line x1="1069" x2="1073.5" y1="291.1" y2="291.1" stroke="#9a9da5" stroke-width="1"/>
<text class="ax" x="1076.7" y="295.1">1,830.00</text>
<line x1="1069" x2="1073.5" y1="317.1" y2="317.1" stroke="#9a9da5" stroke-width="1"/>
<text class="ax" x="1076.7" y="321.1">1,825.00</text>
<line x1="1069" x2="1073.5" y1="343.1" y2="343.1" stroke="#9a9da5" stroke-width="1"/>
<text class="ax" x="1076.7" y="347.1">1,820.00</text>
<line x1="1069" x2="1073.5" y1="369.1" y2="369.1" stroke="#9a9da5" stroke-width="1"/>
<text class="ax" x="1076.7" y="373.1">1,815.00</text>
<line x1="1069" x2="1073.5" y1="395.1" y2="395.1" stroke="#9a9da5" stroke-width="1"/>
<text class="ax" x="1076.7" y="399.1">1,810.00</text>
<line x1="1069" x2="1073.5" y1="421.1" y2="421.1" stroke="#9a9da5" stroke-width="1"/>
<text class="ax" x="1076.7" y="425.6">1,805.00</text>
<line x1="1069" x2="1073.5" y1="459.5" y2="459.5" stroke="#9a9da5"/>
<text class="ax" x="1076.7" y="464.5">0.00</text>
<line x1="1069" x2="1073.5" y1="542.5" y2="542.5" stroke="#9a9da5"/>
<text class="ax" x="1076.7" y="546.5">50.00</text>
<text class="ax" x="1076.7" y="578.5">0.00</text>
<text class="ax" x="0" y="593">May</text>
<line x1="42.4" x2="42.4" y1="576" y2="579" stroke="#8a8fa0" stroke-width="1"/>
<text class="ax" x="42.4" y="593" text-anchor="middle">30</text>
<line x1="93.4" x2="93.4" y1="576" y2="579" stroke="#8a8fa0" stroke-width="1"/>
<text class="ax" x="93.4" y="593" text-anchor="middle">31</text>
<line x1="144.3" x2="144.3" y1="576" y2="579" stroke="#8a8fa0" stroke-width="1"/>
<text class="ax" x="144.3" y="593" text-anchor="middle">Jun</text>
<line x1="195.2" x2="195.2" y1="576" y2="579" stroke="#8a8fa0" stroke-width="1"/>
<text class="ax" x="195.2" y="593" text-anchor="middle">2</text>
<line x1="245.9" x2="245.9" y1="576" y2="579" stroke="#8a8fa0" stroke-width="1"/>
<text class="ax" x="245.9" y="593" text-anchor="middle">3</text>
<line x1="297" x2="297" y1="576" y2="579" stroke="#8a8fa0" stroke-width="1"/>
<text class="ax" x="297" y="593" text-anchor="middle">5</text>
<line x1="356.4" x2="356.4" y1="576" y2="579" stroke="#8a8fa0" stroke-width="1"/>
<text class="ax" x="356.4" y="593" text-anchor="middle">7</text>
<line x1="407.4" x2="407.4" y1="576" y2="579" stroke="#8a8fa0" stroke-width="1"/>
<text class="ax" x="407.4" y="593" text-anchor="middle">8</text>
<line x1="458.1" x2="458.1" y1="576" y2="579" stroke="#8a8fa0" stroke-width="1"/>
<text class="ax" x="458.1" y="593" text-anchor="middle">9</text>
<line x1="509.1" x2="509.1" y1="576" y2="579" stroke="#8a8fa0" stroke-width="1"/>
<text class="ax" x="509.1" y="593" text-anchor="middle">10</text>
<line x1="560.2" x2="560.2" y1="576" y2="579" stroke="#8a8fa0" stroke-width="1"/>
<text class="ax" x="560.2" y="593" text-anchor="middle">12</text>
<line x1="619.6" x2="619.6" y1="576" y2="579" stroke="#8a8fa0" stroke-width="1"/>
<text class="ax" x="619.6" y="593" text-anchor="middle">14</text>
<line x1="670.3" x2="670.3" y1="576" y2="579" stroke="#8a8fa0" stroke-width="1"/>
<text class="ax" x="670.3" y="593" text-anchor="middle">15</text>
<line x1="721.3" x2="721.3" y1="576" y2="579" stroke="#8a8fa0" stroke-width="1"/>
<text class="ax" x="721.3" y="593" text-anchor="middle">16</text>
<line x1="772.3" x2="772.3" y1="576" y2="579" stroke="#8a8fa0" stroke-width="1"/>
<text class="ax" x="772.3" y="593" text-anchor="middle">17</text>
<line x1="823.1" x2="823.1" y1="576" y2="579" stroke="#8a8fa0" stroke-width="1"/>
<text class="ax" x="823.1" y="593" text-anchor="middle">19</text>
<line x1="882.5" x2="882.5" y1="576" y2="579" stroke="#8a8fa0" stroke-width="1"/>
<text class="ax" x="882.5" y="593" text-anchor="middle">21</text>
<line x1="933.2" x2="933.2" y1="576" y2="579" stroke="#8a8fa0" stroke-width="1"/>
<text class="ax" x="933.2" y="593" text-anchor="middle">22</text>
<line x1="984.2" x2="984.2" y1="576" y2="579" stroke="#8a8fa0" stroke-width="1"/>
<text class="ax" x="984.2" y="593" text-anchor="middle">23</text>
<line x1="1035.3" x2="1035.3" y1="576" y2="579" stroke="#8a8fa0" stroke-width="1"/>
<text class="ax" x="1035.3" y="593" text-anchor="middle">24</text>
<g transform="translate(1005.3,552.7)"><circle r="22.5" fill="url(#rg)"/><path d="M-12.40,17.00 C-11.57,17.15 -9.75,18.20 -7.40,17.90 C-5.05,17.60 -1.03,16.70 1.70,15.20 C4.43,13.70 7.02,11.48 9.00,8.90 C10.98,6.32 12.77,1.83 13.60,-0.30 C14.43,-2.43 14.45,-2.38 14.00,-3.90 C13.55,-5.42 12.33,-7.95 10.90,-9.40 C9.47,-10.85 7.00,-12.15 5.40,-12.60 C3.80,-13.05 2.67,-11.87 1.30,-12.10 C-0.07,-12.33 -1.35,-14.07 -2.80,-14.00 C-4.25,-13.93 -6.48,-12.70 -7.40,-11.70 C-8.32,-10.70 -7.53,-8.98 -8.30,-8.00 C-9.07,-7.02 -11.17,-6.93 -12.00,-5.80 C-12.83,-4.67 -13.47,-2.88 -13.30,-1.20 C-13.13,0.48 -12.28,2.90 -11.00,4.30 C-9.72,5.70 -7.50,6.90 -5.60,7.20 C-3.70,7.50 -0.90,6.88 0.40,6.10 C1.70,5.32 1.98,3.63 2.20,2.50 C2.42,1.37 2.15,0.07 1.70,-0.70 C1.25,-1.47 0.25,-1.95 -0.50,-2.10 C-1.25,-2.25 -2.42,-1.68 -2.80,-1.60 C-2.50,-1.95 -1.90,-3.35 -1.00,-3.70 C-0.10,-4.05 1.62,-4.27 2.60,-3.70 C3.58,-3.13 4.58,-1.63 4.90,-0.30 C5.22,1.03 5.18,2.62 4.50,4.30 C3.82,5.98 2.48,8.20 0.80,9.80 C-0.88,11.40 -3.40,12.70 -5.60,13.90 C-7.80,15.10 -11.27,16.48 -12.40,17.00 Z" fill="url(#gg)"/></g>
</svg>
<div class="lbl" style="top:5.2px;width:78.5px"><i style="background:#2f8573"></i>XAU/USD</div>
<div class="lbl" style="top:32.2px;width:84.6px"><i style="background:#d5573f"></i>SMA (20,0)</div>
<div class="lbl" style="top:59.2px;width:90.7px"><i style="background:#1f3f8f"></i>SMA (100,0)</div>
<div class="lbl" style="top:86.2px;width:90.7px"><i style="background:#1f9a8f"></i>SMA (200,0)</div>
<div class="lbl" style="top:436px;width:80px"><i style="background:#1a35c8"></i>MOM (20)</div>
<div class="lbl" style="top:513px;width:110.8px"><i style="background:#22e022"></i>RSI (14,70,30,1)</div>
<div id="fx"><span class="a">FX</span><span class="b">STREET</span></div>
<div id="price">1,828.37</div>
<div id="wm1">中金网</div><div id="wm2">CNGOLD.COM.CN</div><div id="wm3">中文财经新媒体</div>
</body></html>
